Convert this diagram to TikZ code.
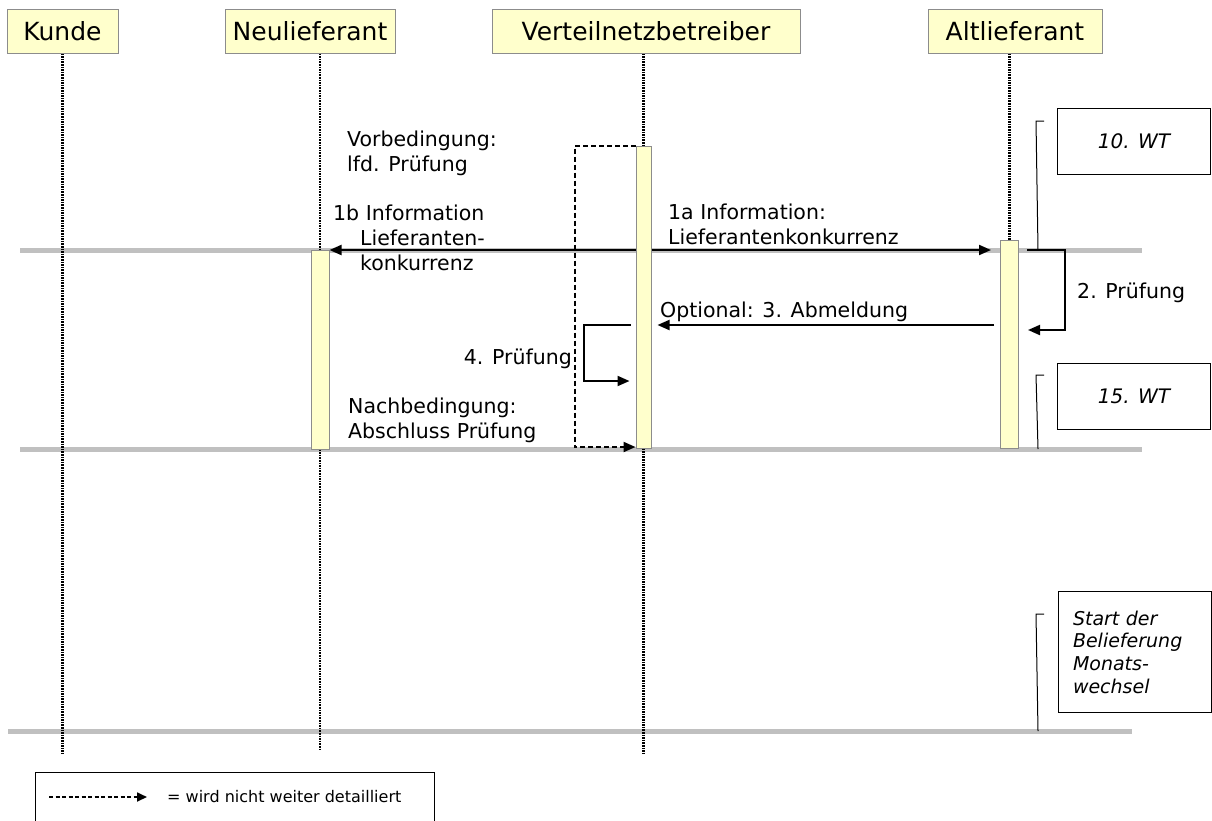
\documentclass[tikz,border=0pt]{standalone}
\usepackage{fontspec}
\setmainfont{DejaVu Sans}
\usetikzlibrary{arrows.meta,calc,backgrounds}
\definecolor{actfill}{HTML}{FFFFCC}
\definecolor{actdraw}{HTML}{8C8C8C}
\definecolor{phase}{HTML}{C0C0C0}
\begin{document}
\begin{tikzpicture}[x=1pt,y=-1pt,
  hdr/.style={draw=actdraw, fill=actfill, line width=1pt, inner sep=0pt, minimum height=44pt, font=\fontsize{25}{28}\selectfont},
  act/.style={draw=actdraw, fill=actfill, line width=1pt, inner sep=0pt, minimum width=18pt},
  lifeline/.style={line width=2.2pt, dash pattern=on 1.6pt off 1pt},
  phaseline/.style={draw=phase, line width=5pt},
  msg/.style={line width=2pt, -{Triangle[length=12pt,width=10pt]}},
  detail/.style={line width=2pt, dash pattern=on 5pt off 3pt, -{Triangle[length=12pt,width=10pt]}},
  lbl/.style={inner sep=0pt, font=\fontsize{20.5}{25}\selectfont, align=left},
  wtbox/.style={draw, line width=1pt, inner sep=0pt},
  wtfont/.style={font=\fontsize{20}{24}\selectfont\itshape},
  bracket/.style={line width=1pt},
]
\useasboundingbox (0,0) rectangle (1212,820);

% headers
\node[hdr, minimum width=111pt] (kunde) at (62.5,31) {Kunde};
\node[hdr, minimum width=170pt] (neu) at (310,31) {Neulieferant};
\node[hdr, minimum width=308pt] (vnb) at (646,31) {Verteilnetzbetreiber};
\node[hdr, minimum width=174pt] (alt) at (1015,31) {Altlieferant};

% activation boxes
\node[act, minimum height=199pt] (actN) at (320,349.5) {};
\node[act, minimum width=15pt, minimum height=302pt] (actV) at (643.5,297) {};
\node[act, minimum height=208pt] (actA) at (1009.5,344.5) {};

% row coordinates
\coordinate (yend) at (0,753);
\coordinate (m1) at (0,250);
\coordinate (m2) at (0,449);
\coordinate (m3) at (0,325);
\coordinate (m3b) at (0,330);
\coordinate (m4) at (0,381);

\begin{scope}[on background layer]
  \fill[white] (0,0) rectangle (1212,820);
  \draw[phaseline] (20,250) -- (1142,250);
  \draw[phaseline] (20,449) -- (1142,449);
  \draw[phaseline] (8,731) -- (1132,731);
  \draw[lifeline] (kunde.south) -- (kunde.south |- yend);
  \draw[lifeline] (neu.south -| actN) -- (actN.north);
  \draw[lifeline] (actN.south) -- (actN.south |- 0,751);
  \draw[lifeline] (vnb.south -| actV) -- (actV.north);
  \draw[lifeline] (actV.south) -- (actV.south |- yend);
  \draw[lifeline] (alt.south -| actA) -- (actA.north);
\end{scope}

% messages
\draw[msg] (actV.west |- m1) -- (actN.east |- m1);
\draw[msg] (actV.east |- m1) -- ($(actA.west |- m1)+(-9,0)$);
\draw[msg] ($(actA.east |- m1)+(8,0)$) -- ++(38,0) |- ($(actA.east |- m3b)+(9,0)$);
\draw[msg] ($(actA.west |- m3)+(-6,0)$) -- ($(actV.east |- m3)+(6,0)$);
\draw[msg] ($(actV.west |- m3)+(-5,0)$) -- ++(-47,0) |- ($(actV.west |- m4)+(-6,0)$);
\draw[detail] (actV.north west) -- ++(-61,0) |- ($(actV.south west)+(0,-1.5)$);

% labels
\node[lbl, anchor=north west] (vor) at (347,130.5) {Vorbedingung:\\lfd. Prüfung};
\node[lbl, anchor=north west] (l1b) at (333,204.5) {1b Information\\\hspace*{27pt}Lieferanten-\\\hspace*{27pt}konkurrenz};
\node[lbl, anchor=north west] (l1a) at (668,203.5) {1a Information:\\Lieferantenkonkurrenz};
\node[lbl, anchor=base west] (lopt) at (660,317) {Optional: 3. Abmeldung};
\node[lbl, anchor=base west] (l2) at (1077,298) {2. Prüfung};
\node[lbl, anchor=base east] (l4) at (572,364) {4. Prüfung};
\node[lbl, anchor=north west] (nach) at (348,398) {Nachbedingung:\\Abschluss Prüfung};

% time boxes
\node[wtbox, wtfont, minimum width=153pt, minimum height=66pt] (wt10) at (1134,141) {10. WT};
\node[wtbox, wtfont, minimum width=153pt, minimum height=66pt] (wt15) at (1134,396) {15. WT};
\node[wtbox, anchor=north west, minimum width=153pt, minimum height=121pt, inner xsep=15pt, text width=123pt, align=left, font=\fontsize{19}{22.7}\selectfont\itshape] (wtstart) at (1057.5,591) {Start der\\Belieferung\\Monats-\\wechsel};

\coordinate (b10) at (1044,121);
\coordinate (b15) at (1044,375);
\coordinate (bst) at (1044,614);
\draw[bracket] (b10) -- ++(-8,0) -- (1038,250);
\draw[bracket] (b15) -- ++(-8,0) -- (1038,449);
\draw[bracket] (bst) -- ++(-8,0) -- (1038,731);

% legend
\coordinate (lgA) at (49,797);
\coordinate (lgB) at (147,797);
\draw[line width=1pt] (35,823) |- (434,772) -- (434,823);
\draw[detail, line width=1.8pt, dash pattern=on 4pt off 2.5pt, -{Triangle[length=10pt,width=9pt]}] (lgA) -- (lgB);
\node[inner sep=0pt, anchor=west, font=\fontsize{16}{18}\selectfont] (lgtxt) at (167,797) {= wird nicht weiter detailliert};
\end{tikzpicture}
\end{document}
